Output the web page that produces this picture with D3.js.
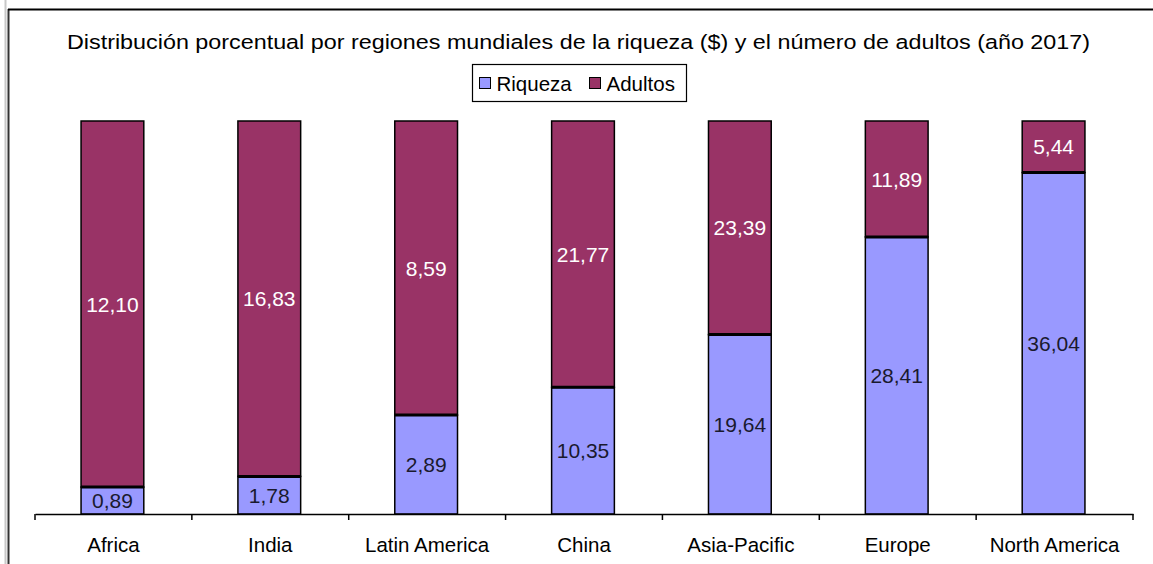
<!DOCTYPE html>
<html>
<head>
<meta charset="utf-8">
<script src="https://cdn.jsdelivr.net/npm/d3@7"></script>
<style>
  body { margin: 0; background: #fff; }
  text { font-family: "Liberation Sans", Arial, sans-serif; }
</style>
</head>
<body>
<div id="main"></div>
<script>
// datos
var regions = ['Africa', 'India', 'Latin America', 'China', 'Asia-Pacific', 'Europe', 'North America'];
var riqueza = [0.89, 1.78, 2.89, 10.35, 19.64, 28.41, 36.04];
var adultos = [12.10, 16.83, 8.59, 21.77, 23.39, 11.89, 5.44];
var seriesNames = ['Riqueza', 'Adultos'];
var seriesColors = ['#9999ff', '#993366'];
var title = 'Distribución porcentual por regiones mundiales de la riqueza ($) y el número de adultos (año 2017)';

var W = 1153, H = 564;
var svg = d3.select('#main').append('svg').attr('width', W).attr('height', H);

// marco
svg.append('line').attr('x1', 5.5).attr('x2', 5.5).attr('y1', 0).attr('y2', H)
    .attr('stroke', '#c8c8c8').attr('stroke-width', 2);
svg.append('line').attr('x1', 8.5).attr('x2', 8.5).attr('y1', 9).attr('y2', H)
    .attr('stroke', '#333').attr('stroke-width', 2);
svg.append('line').attr('x1', 8).attr('x2', W).attr('y1', 9.5).attr('y2', 9.5)
    .attr('stroke', '#000').attr('stroke-width', 2);

svg.append('text').attr('x', 67).attr('y', 49)
    .attr('textLength', 1023).attr('lengthAdjust', 'spacingAndGlyphs')
    .style('font-size', '20.5px').attr('fill', '#000').text(title);

// tabla para el apilado
var table = regions.map(function (r, i) {
    var tot = riqueza[i] + adultos[i];
    return { region: r, Riqueza: riqueza[i] / tot, Adultos: adultos[i] / tot, raw: [riqueza[i], adultos[i]] };
});
var stack = d3.stack().keys(seriesNames)(table);

var x = d3.scaleBand().domain(regions).range([35, 1133]).paddingInner(0.6).paddingOuter(0.3);
var y = d3.scaleLinear().domain([0, 1]).range([514, 121]);

var fmt = function (v) { return d3.format('.2f')(v).replace('.', ','); };

var groups = svg.append('g').selectAll('g')
    .data(stack).enter().append('g')
    .attr('fill', function (d, i) { return seriesColors[i]; });

groups.selectAll('rect')
    .data(function (d) { return d; })
    .enter().append('rect')
    .attr('x', function (d) { return x(d.data.region) - 1; })
    .attr('width', x.bandwidth())
    .attr('y', function (d) { return y(d[1]); })
    .attr('height', function (d) { return y(d[0]) - y(d[1]); })
    .attr('stroke', '#000').attr('stroke-width', 1.5);

// líneas de separación más gruesas
svg.append('g').selectAll('line')
    .data(stack[0]).enter().append('line')
    .attr('x1', function (d) { return x(d.data.region) - 1; })
    .attr('x2', function (d) { return x(d.data.region) - 1 + x.bandwidth(); })
    .attr('y1', function (d) { return y(d[1]); })
    .attr('y2', function (d) { return y(d[1]); })
    .attr('stroke', '#000').attr('stroke-width', 3);

stack.forEach(function (s, si) {
    svg.append('g').selectAll('text')
        .data(s).enter().append('text')
        .attr('x', function (d) { return x(d.data.region) - 1 + x.bandwidth() / 2; })
        .attr('y', function (d) { return (y(d[0]) + y(d[1])) / 2; })
        .attr('dy', '0.36em')
        .attr('text-anchor', 'middle')
        .style('font-size', '21px')
        .attr('fill', si === 0 ? '#1a1a2e' : '#ffffff')
        .text(function (d) { return fmt(d.data.raw[si]); });
});

// eje
var axis = d3.axisBottom(x).tickSize(0).tickPadding(23);
var gx = svg.append('g').attr('transform', 'translate(0,514)').call(axis);
gx.select('.domain').attr('stroke', '#000').attr('stroke-width', 1.5);
gx.selectAll('.tick text').style('font-size', '20.5px').attr('fill', '#000')
    .style('font-family', '"Liberation Sans", Arial, sans-serif');
var step = x.step();
svg.append('g').selectAll('line')
    .data(d3.range(0, regions.length + 1)).enter().append('line')
    .attr('x1', function (i) { return 35 + i * step; })
    .attr('x2', function (i) { return 35 + i * step; })
    .attr('y1', 514).attr('y2', 520)
    .attr('stroke', '#000').attr('stroke-width', 1.5);

// leyenda
var lg = svg.append('g').attr('transform', 'translate(472.5,64.5)');
lg.append('rect').attr('width', 214).attr('height', 37).attr('fill', '#fff')
    .attr('stroke', '#000').attr('stroke-width', 1.2);
var itemX = [7, 117];
var items = lg.selectAll('g.it').data(seriesNames).enter().append('g')
    .attr('transform', function (d, i) { return 'translate(' + itemX[i] + ',0)'; });
items.append('rect').attr('y', 13).attr('width', 11).attr('height', 11)
    .attr('fill', function (d, i) { return seriesColors[i]; })
    .attr('stroke', '#000').attr('stroke-width', 1);
items.append('text').attr('x', 17).attr('y', 19).attr('dy', '0.36em')
    .style('font-size', '20.5px').attr('fill', '#000').text(function (d) { return d; });
</script>
</body>
</html>
